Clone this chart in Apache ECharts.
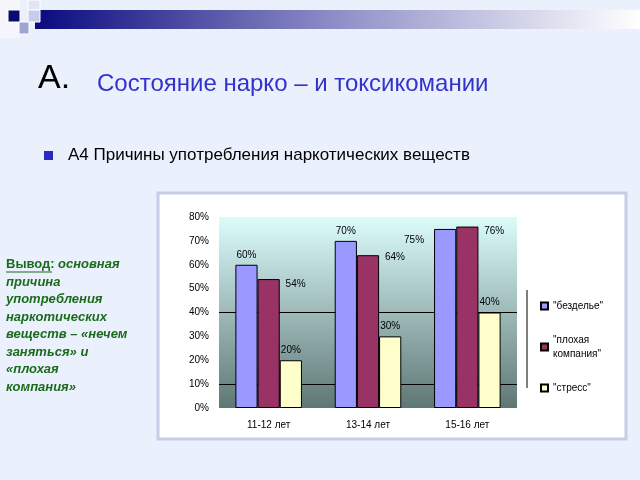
<!DOCTYPE html>
<html>
<head>
<meta charset="utf-8">
<title>Состояние нарко – и токсикомании</title>
<script src="https://cdn.jsdelivr.net/npm/echarts@6/dist/echarts.min.js"></script>
<style>
    html, body { margin: 0; padding: 0; background: #eaf0fc; }
    #chartmain { width: 640px; height: 480px; }
</style>
</head>
<body>
<div id="chartmain"></div>
<script>
    var categories = ['11-12 лет', '13-14 лет', '15-16 лет'];
    var idleness = [60, 70, 75];
    var badCompany = [54, 64, 76];
    var stress = [20, 30, 40];
    var yTicks = [0, 10, 20, 30, 40, 50, 60, 70, 80];

    var lbl = { fontFamily: 'Liberation Sans', fontSize: 10, color: '#000', formatter: '{c}%' };
    var green = '#1c6b1c';

    var myChart = echarts.init(document.getElementById('chartmain'));
    myChart.setOption({
        backgroundColor: '#eaf0fc',
        animation: false,
        graphic: [
            // header bar
            { type: 'rect', shape: { x: 35, y: 10, width: 605, height: 19 },
              style: { fill: new echarts.graphic.LinearGradient(0, 0, 1, 0, [
                  { offset: 0, color: '#0a0a80' }, { offset: 0.5, color: '#8f8fc8' }, { offset: 1, color: '#ffffff' }]) } },
            { type: 'rect', shape: { x: 0, y: 0, width: 20, height: 38 }, style: { fill: '#f4f6fc' } },
            { type: 'rect', shape: { x: 8, y: 10, width: 12, height: 12 }, style: { fill: '#0a0a70', stroke: '#fff' } },
            { type: 'rect', shape: { x: 28, y: 0, width: 12, height: 10 }, style: { fill: '#e0e4f4', stroke: '#fff' } },
            { type: 'rect', shape: { x: 28, y: 10, width: 12, height: 12 }, style: { fill: '#c8cce8', stroke: '#fff' } },
            { type: 'rect', shape: { x: 19, y: 22, width: 10, height: 12 }, style: { fill: '#9fa4d4', stroke: '#fff' } },
            // title
            { type: 'text', left: 38, top: 62, style: { text: 'А.', fontSize: 34, fill: '#000', fontFamily: 'Liberation Sans' } },
            { type: 'text', left: 97, top: 72, style: { text: 'Состояние нарко – и токсикомании', fontSize: 24, fill: '#3333cc', fontFamily: 'Liberation Sans' } },
            { type: 'rect', shape: { x: 44, y: 151, width: 9, height: 9 }, style: { fill: '#2a2ac0' } },
            { type: 'text', left: 68, top: 147, style: { text: 'А4 Причины употребления наркотических веществ', fontSize: 17, fill: '#000', fontFamily: 'Liberation Sans' } },
            // chart box
            { type: 'rect', z: -1, shape: { x: 158, y: 193, width: 468, height: 246 }, style: { fill: '#fff', stroke: '#c8cce6', lineWidth: 3 } },
            { type: 'line', shape: { x1: 527, y1: 290, x2: 527, y2: 388 }, style: { stroke: '#000', lineWidth: 1 } },
            // conclusion
            { type: 'text', left: 6, top: 256, style: {
                text: '{b|Вывод:} {i|основная}\n{i|причина}\n{i|употребления}\n{i|наркотических}\n{i|веществ – «нечем}\n{i|заняться» и}\n{i|«плохая}\n{i|компания»}',
                lineHeight: 17.5,
                rich: {
                    b: { fontSize: 13, fontWeight: 'bold', fill: green, fontFamily: 'Liberation Sans' },
                    i: { fontSize: 13, fontWeight: 'bold', fontStyle: 'italic', fill: green, fontFamily: 'Liberation Sans' }
                } } },
            { type: 'line', shape: { x1: 6, y1: 272, x2: 52, y2: 272 }, style: { stroke: green, lineWidth: 1 } }
        ],
        grid: {
            left: 219, right: 123, top: 217, bottom: 72,
            show: true, borderWidth: 0,
            backgroundColor: new echarts.graphic.LinearGradient(0, 0, 0, 1, [
                { offset: 0, color: '#dcfcfc' }, { offset: 1, color: '#5e7775' }])
        },
        legend: {
            orient: 'vertical', left: 535, top: 294, itemWidth: 7, itemHeight: 7, itemGap: 20,
            icon: 'rect',
            textStyle: { fontFamily: 'Liberation Sans', fontSize: 10, color: '#000', lineHeight: 14 },
            data: ['"безделье"', '"плохая\nкомпания"', '"стресс"']
        },
        xAxis: {
            type: 'category', data: categories,
            axisLine: { show: false }, axisTick: { show: false },
            axisLabel: { fontFamily: 'Liberation Sans', fontSize: 10, color: '#000', margin: 12 }
        },
        yAxis: {
            type: 'value', min: 0, max: 80, interval: 10,
            axisLine: { show: false }, axisTick: { show: false }, splitLine: { show: false },
            axisLabel: { fontFamily: 'Liberation Sans', fontSize: 10, color: '#000', margin: 10,
                formatter: function (v) { return yTicks.indexOf(v) >= 0 ? v + '%' : ''; } }
        },
        series: [
            { name: '"безделье"', type: 'bar', barGap: '0%', barCategoryGap: '33%',
              itemStyle: { color: '#9999ff', borderColor: '#000', borderWidth: 1 },
              label: Object.assign({ show: true, position: 'top' }, lbl),
              data: [idleness[0], idleness[1], { value: idleness[2], label: { position: [-30, 6] } }],
              markLine: { silent: true, symbol: 'none', label: { show: false },
                  lineStyle: { color: '#000', type: 'solid', width: 1 }, z: 1,
                  data: [{ yAxis: 10 }, { yAxis: 40 }] } },
            { name: '"плохая\nкомпания"', type: 'bar',
              itemStyle: { color: '#993366', borderColor: '#000', borderWidth: 1 },
              label: Object.assign({ show: true, position: [28, 0] }, lbl),
              data: [badCompany[0], { value: badCompany[1], label: { position: [28, -3] } }, badCompany[2]] },
            { name: '"стресс"', type: 'bar',
              itemStyle: { color: '#ffffcc', borderColor: '#000', borderWidth: 1 },
              label: Object.assign({ show: true, position: 'top' }, lbl),
              data: stress }
        ]
    });
</script>
</body>
</html>
